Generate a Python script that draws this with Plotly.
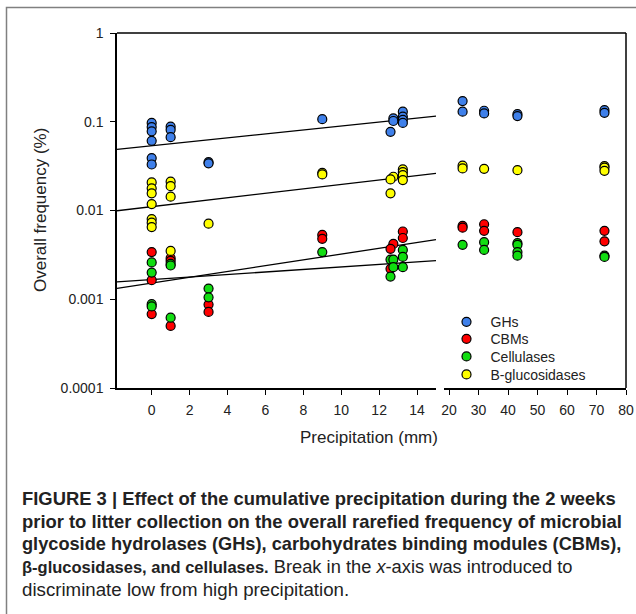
import plotly.graph_objects as go

W, H = 636, 614

series_names = ["GHs", "CBMs", "Cellulases", "B-glucosidases"]
series_colors = ["#3f80ea", "#ff0000", "#11dd11", "#ffff00"]

ghs_x = [0, 0, 0, 0, 0, 0, 1, 1, 1, 3, 3, 9, 12.75, 12.75, 12.6, 13.25, 13.25, 13.25, 13.25,
         24.6, 24.6, 31.9, 31.9, 43.2, 43.2, 72.7, 72.7]
ghs_y = [0.097, 0.087, 0.078, 0.061, 0.039, 0.033, 0.088, 0.081, 0.067, 0.035, 0.034, 0.107,
         0.109, 0.102, 0.077, 0.130, 0.114, 0.105, 0.097,
         0.171, 0.130, 0.133, 0.124, 0.122, 0.116, 0.135, 0.126]

cbm_x = [0, 0, 0, 1, 1, 1, 3, 3, 9, 9, 12.75, 12.6, 12.6, 13.25, 13.25,
         24.6, 24.6, 31.9, 31.9, 43.2, 72.7, 72.7]
cbm_y = [0.0034, 0.00164, 0.00068, 0.0029, 0.0027, 0.0005, 0.00087, 0.00072, 0.0053, 0.0048,
         0.0042, 0.0037, 0.0022, 0.0058, 0.0049,
         0.0067, 0.0064, 0.0070, 0.0059, 0.0057, 0.0059, 0.0045]

cel_x = [0, 0, 0, 0, 1, 1, 1, 3, 3, 9, 12.6, 12.75, 12.75, 12.6, 13.25, 13.25, 13.25,
         24.6, 31.9, 31.9, 43.2, 43.2, 43.2, 43.2, 72.7, 72.7]
cel_y = [0.0026, 0.0020, 0.00088, 0.00083, 0.0025, 0.0024, 0.00062, 0.00132, 0.00105, 0.0034,
         0.0028, 0.0028, 0.0023, 0.0018, 0.0036, 0.0030, 0.0023,
         0.0041, 0.0044, 0.0036, 0.0043, 0.0041, 0.0034, 0.0031, 0.0031, 0.0030]

bgl_x = [0, 0, 0, 0, 0, 0, 0, 1, 1, 1, 1, 3, 9, 9, 12.75, 12.6, 12.6, 13.25, 13.25, 13.25, 13.25,
         24.6, 24.6, 31.9, 43.2, 72.7, 72.7, 72.7]
bgl_y = [0.0207, 0.0178, 0.0156, 0.0118, 0.0080, 0.0073, 0.0065, 0.0211, 0.0188, 0.0143, 0.0035,
         0.0071, 0.0266, 0.0255, 0.024, 0.0224, 0.0156, 0.029, 0.027, 0.025, 0.022,
         0.032, 0.0298, 0.0295, 0.0285, 0.0317, 0.0304, 0.028]

# log10-linear regression fits (low precipitation panel): log10(y) = a + b*x
fit_intercept = [-1.270, -2.818, -2.778, -1.957]
fit_slope = [0.0223, 0.0327, 0.01414, 0.0250]

low_range = [-1.83, 15]
high_range = [18.4, 80]
low_ticks = [0, 2, 4, 6, 8, 10, 12, 14]
high_ticks = [20, 30, 40, 50, 60, 70, 80]
y_ticks = [0.0001, 0.001, 0.01, 0.1, 1]
y_ticktext = ["0.0001", "0.001", "0.01", "0.1", "1"]

caption_lines = [
    "<b>FIGURE 3 | Effect of the cumulative precipitation during the 2 weeks</b>",
    "<b>prior to litter collection on the overall rarefied frequency of microbial</b>",
    "<b>glycoside hydrolases (GHs), carbohydrates binding modules (CBMs),</b>",
    "<span style=\"font-size:16.5px\"><b>β-glucosidases, and cellulases.</b></span> "
    "Break in the <i>x</i>-axis was introduced to",
    "discriminate low from high precipitation.",
]
caption_sizes = [18.4, 18.4, 18.2, 18.3, 18.7]

# ---- layout geometry (pixels) ----
PX_L, PX_BREAK_L, PX_BREAK_R, PX_R = 117, 436, 444.3, 626
PY_T, PY_B = 33, 388


def px(x):
    return x / W


def py(y):
    return 1 - y / H


fig = go.Figure()

all_x = [ghs_x, cbm_x, cel_x, bgl_x]
all_y = [ghs_y, cbm_y, cel_y, bgl_y]

# regression lines first (under markers)
for a, b in zip(fit_intercept, fit_slope):
    xs = low_range
    ys = [10 ** (a + b * v) for v in xs]
    fig.add_trace(go.Scatter(x=xs, y=ys, mode="lines", xaxis="x", yaxis="y",
                             line=dict(color="black", width=1.3), showlegend=False,
                             hoverinfo="skip"))

legend_ids = ["legend", "legend2", "legend3", "legend4"]
for name, col, xs, ys, lid in zip(series_names, series_colors, all_x, all_y, legend_ids):
    lx = [x for x in xs if x < 16]
    ly = [y for x, y in zip(xs, ys) if x < 16]
    hx = [x for x in xs if x >= 16]
    hy = [y for x, y in zip(xs, ys) if x >= 16]
    mk = dict(color=col, size=9, line=dict(color="black", width=1.2))
    fig.add_trace(go.Scatter(x=lx, y=ly, mode="markers", xaxis="x", yaxis="y", marker=mk,
                             name=name, legendgroup=name, showlegend=True, legend=lid))
    fig.add_trace(go.Scatter(x=hx, y=hy, mode="markers", xaxis="x2", yaxis="y", marker=mk,
                             name=name, legendgroup=name, showlegend=False, legend=lid))

tickfont = dict(family="Liberation Sans, Arial, sans-serif", size=14, color="#222")
axis_common = dict(showgrid=False, zeroline=False, showline=True, linecolor="black",
                   linewidth=1.5, ticks="outside", ticklen=5, tickwidth=1.2,
                   tickcolor="black", tickfont=tickfont, automargin=False)

legend_font = dict(family="Liberation Sans, Arial, sans-serif", size=14, color="#222")
legend_rows = [321.7, 338.7, 356.3, 374.3]
legend_layout = {}
for lid, row in zip(legend_ids, legend_rows):
    legend_layout[lid] = dict(x=px(442.5), y=py(row - 15.5), xanchor="left", yanchor="top",
                              bgcolor="rgba(0,0,0,0)", itemwidth=38, font=legend_font,
                              borderwidth=0)

fig.update_layout(
    template="none",
    width=W, height=H, autosize=False,
    margin=dict(l=0, r=0, t=0, b=0, pad=0),
    paper_bgcolor="white", plot_bgcolor="white",
    xaxis=dict(domain=[px(PX_L), px(PX_BREAK_L)], range=low_range, tickvals=low_ticks,
               anchor="y", ticklabelstandoff=3, **axis_common),
    xaxis2=dict(domain=[px(PX_BREAK_R), px(PX_R)], range=high_range, tickvals=high_ticks,
                anchor="y", ticklabelstandoff=3, **axis_common),
    yaxis=dict(domain=[py(PY_B), py(PY_T)], type="log", range=[-4, 0], tickvals=y_ticks,
               ticktext=y_ticktext, anchor="x", ticklabelstandoff=4, **axis_common),
    showlegend=True,
    **legend_layout,
)

shapes = [
    # outer figure box
    dict(type="rect", xref="paper", yref="paper", x0=px(6.5), x1=px(645), y0=py(7.5), y1=py(630),
         line=dict(color="#808080", width=1.5), layer="below"),
    # top frame line
    dict(type="line", xref="paper", yref="paper", x0=px(PX_L), x1=px(PX_R), y0=py(PY_T), y1=py(PY_T),
         line=dict(color="black", width=1.5)),
    # right frame line
    dict(type="line", xref="paper", yref="paper", x0=px(PX_R), x1=px(PX_R), y0=py(PY_T), y1=py(PY_B),
         line=dict(color="black", width=1.5)),
]
fig.update_layout(shapes=shapes)

title_font = dict(family="Liberation Sans, Arial, sans-serif", size=17, color="#222")
annotations = [
    dict(text="Precipitation (mm)", x=px(369), y=py(437), xref="paper", yref="paper",
         showarrow=False, xanchor="center", yanchor="middle", font=title_font),
    dict(text="Overall frequency (%)", x=px(41), y=py(210), xref="paper", yref="paper",
         showarrow=False, xanchor="center", yanchor="middle", textangle=-90, font=title_font),
]
cap_y = [498.5, 521.5, 544, 566.5, 589]
for line, yy, sz in zip(caption_lines, cap_y, caption_sizes):
    annotations.append(dict(text=line, x=px(20), y=py(yy), xref="paper", yref="paper",
                            showarrow=False, xanchor="left", yanchor="middle", align="left",
                            font=dict(family="Liberation Sans, Arial, sans-serif",
                                      size=sz, color="#222")))
fig.update_layout(annotations=annotations)

fig.write_html("out.html")
